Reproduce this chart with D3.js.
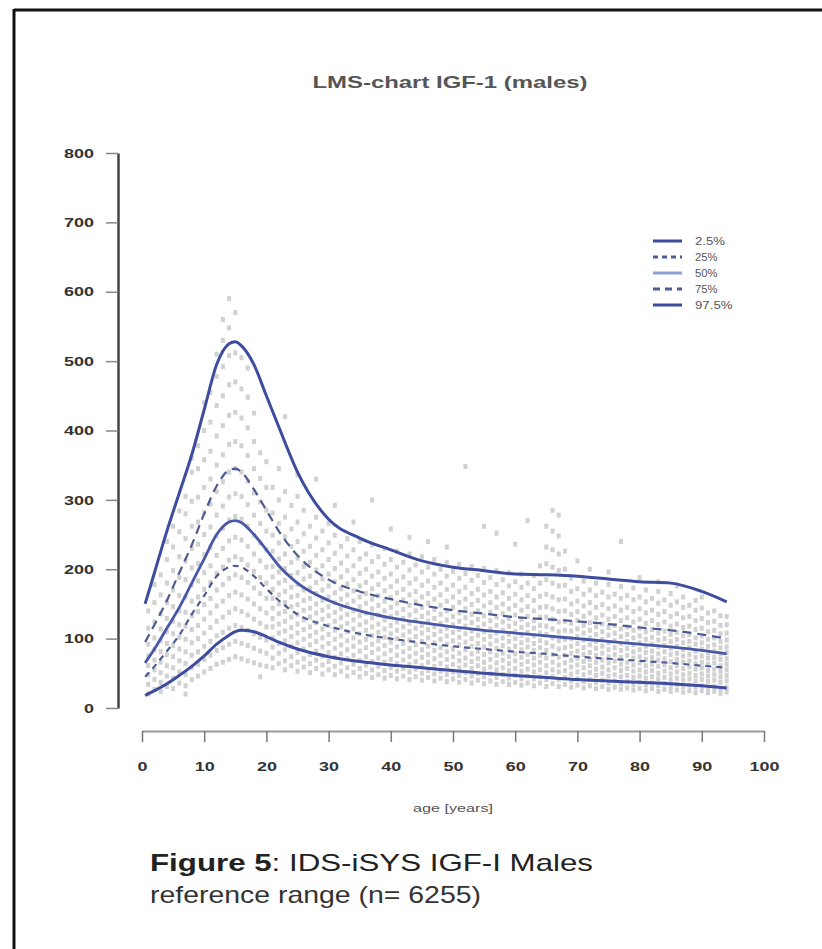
<!DOCTYPE html>
<html>
<head>
<meta charset="utf-8">
<script src="https://cdn.jsdelivr.net/npm/d3@7"></script>
<style>
  body { margin: 0; background: #fff; }
  svg { display: block; }
</style>
</head>
<body>
<svg id="chart" width="822" height="949"></svg>
<script>
// percentile curves (age in years, IGF-1 value)
const curveAges = [0.5, 2, 4, 6, 8, 10, 12, 14, 15, 16, 18, 20, 22, 25, 30, 35, 40, 45, 50, 55, 60, 65, 70, 75, 80, 85, 90, 94];
const p975 = [150, 195, 255, 310, 365, 430, 495, 525, 528, 522, 495, 450, 405, 340, 272, 245, 228, 212, 203, 198, 193, 192, 190, 186, 182, 180, 168, 153];
const p75  = [95, 120, 155, 195, 235, 280, 320, 343, 345, 340, 315, 285, 255, 220, 185, 168, 157, 148, 141, 136, 131, 128, 125, 121, 116, 112, 106, 100];
const p50  = [65, 85, 115, 145, 180, 215, 250, 268, 270, 267, 250, 228, 205, 180, 155, 140, 130, 123, 117, 112, 108, 104, 100, 96, 92, 88, 83, 78];
const p25  = [45, 60, 82, 105, 135, 162, 190, 203, 205, 203, 190, 172, 155, 135, 118, 107, 100, 94, 89, 85, 81, 78, 74, 71, 68, 65, 61, 58];
const p025 = [18, 25, 35, 47, 60, 75, 92, 105, 110, 112, 110, 103, 95, 85, 74, 67, 62, 58, 54, 50, 47, 44, 41, 39, 37, 35, 32, 29];

const legendLabels = ["2.5%", "25%", "50%", "75%", "97.5%"];
const xTicks = [0, 10, 20, 30, 40, 50, 60, 70, 80, 90, 100];
const yTicks = [0, 100, 200, 300, 400, 500, 600, 700, 800];

// measured points, one row per age: [age, value, value, ...]
const samples = [
  [1, 20, 34, 48, 61, 75, 92, 115, 140],
  [2, 27, 41, 55, 69, 84, 101, 124, 152, 178],
  [3, 24, 37, 51, 66, 81, 97, 114, 136, 163, 192],
  [4, 31, 46, 61, 77, 93, 110, 129, 152, 180, 214, 240],
  [5, 28, 43, 58, 74, 90, 107, 125, 146, 170, 198, 232, 262],
  [6, 36, 52, 68, 85, 102, 120, 140, 162, 188, 218, 254, 284],
  [7, 20, 32, 48, 64, 81, 99, 118, 138, 160, 185, 212, 244, 280, 305],
  [8, 41, 58, 76, 94, 113, 133, 154, 177, 202, 230, 262, 298, 340, 360],
  [9, 46, 63, 81, 100, 119, 139, 160, 183, 208, 236, 268, 304, 345, 378],
  [10, 52, 70, 89, 108, 128, 149, 171, 195, 221, 250, 282, 318, 358, 400, 440],
  [11, 57, 76, 96, 116, 137, 158, 181, 205, 232, 261, 294, 330, 370, 412, 455],
  [12, 63, 83, 104, 125, 147, 170, 194, 220, 248, 278, 312, 350, 392, 436, 478, 510],
  [13, 66, 87, 109, 131, 154, 178, 203, 230, 259, 291, 326, 365, 407, 450, 492, 530, 560],
  [14, 70, 92, 115, 138, 162, 187, 213, 241, 271, 304, 340, 380, 422, 466, 508, 548, 590],
  [15, 74, 96, 119, 143, 167, 192, 218, 246, 276, 309, 345, 384, 426, 470, 512, 570],
  [16, 71, 93, 116, 139, 163, 188, 214, 242, 272, 305, 340, 378, 418, 460, 505],
  [17, 68, 90, 112, 134, 157, 181, 206, 233, 262, 293, 327, 364, 404, 448, 490],
  [18, 65, 86, 107, 128, 150, 173, 197, 222, 249, 278, 310, 345, 384, 425],
  [19, 45, 62, 82, 102, 122, 143, 165, 188, 212, 238, 266, 297, 331, 368],
  [20, 60, 79, 98, 117, 137, 158, 180, 203, 228, 255, 285, 318, 355],
  [21, 58, 72, 88, 101, 117, 129, 144, 158, 171, 189, 204, 226, 249, 281, 318],
  [22, 64, 79, 93, 108, 121, 136, 150, 163, 180, 196, 215, 238, 266, 300, 345],
  [23, 55, 68, 84, 97, 111, 125, 139, 152, 168, 184, 201, 222, 247, 275, 312, 420],
  [24, 61, 74, 89, 103, 116, 131, 146, 160, 174, 191, 210, 233, 258, 292],
  [25, 53, 66, 80, 94, 108, 121, 135, 149, 162, 178, 195, 216, 240, 268, 305, 336],
  [26, 59, 71, 85, 99, 113, 127, 141, 155, 170, 186, 204, 226, 251, 285],
  [27, 51, 64, 77, 91, 104, 117, 131, 144, 158, 173, 190, 210, 233, 262],
  [28, 57, 69, 82, 96, 109, 123, 137, 150, 165, 181, 199, 220, 245, 275, 330],
  [29, 49, 62, 75, 88, 101, 114, 128, 141, 155, 170, 186, 205, 228, 255],
  [30, 55, 67, 80, 93, 106, 119, 133, 146, 160, 176, 193, 214, 238, 266],
  [31, 48, 60, 73, 86, 99, 112, 125, 138, 152, 166, 182, 201, 223, 249, 292],
  [32, 53, 65, 78, 91, 104, 117, 130, 143, 157, 172, 189, 209, 233],
  [33, 46, 58, 71, 84, 97, 110, 122, 135, 149, 163, 179, 198, 219, 244],
  [34, 51, 63, 76, 89, 101, 114, 127, 140, 154, 169, 185, 205, 228, 268],
  [35, 45, 57, 69, 82, 95, 107, 120, 133, 146, 160, 176, 194, 215, 240],
  [36, 50, 62, 74, 87, 99, 112, 124, 137, 151, 165, 181, 200, 222],
  [37, 44, 55, 67, 80, 92, 104, 117, 130, 143, 157, 172, 190, 211, 235, 300],
  [38, 48, 60, 72, 85, 97, 109, 121, 134, 148, 162, 178, 196, 218],
  [39, 43, 54, 66, 78, 90, 102, 114, 127, 140, 154, 169, 187, 207, 230],
  [40, 47, 58, 70, 83, 95, 107, 119, 132, 145, 159, 175, 193, 214, 258],
  [41, 42, 53, 64, 76, 88, 100, 112, 124, 137, 151, 166, 183, 203, 226],
  [42, 46, 57, 69, 81, 93, 105, 117, 129, 142, 156, 171, 189, 210],
  [43, 41, 52, 63, 74, 86, 98, 110, 122, 134, 148, 163, 180, 199, 222, 246],
  [44, 45, 56, 67, 79, 91, 103, 115, 127, 140, 153, 168, 186, 206],
  [45, 40, 50, 61, 73, 84, 96, 108, 119, 132, 145, 160, 177, 196, 218],
  [46, 44, 54, 66, 77, 89, 101, 113, 125, 137, 151, 165, 183, 203, 240],
  [47, 39, 49, 60, 71, 83, 94, 106, 117, 129, 142, 157, 174, 193, 214],
  [48, 43, 53, 64, 76, 87, 99, 111, 122, 135, 148, 163, 180, 200],
  [49, 38, 48, 59, 70, 81, 92, 104, 115, 127, 140, 154, 171, 190, 210, 232],
  [50, 42, 52, 63, 74, 85, 97, 109, 120, 132, 145, 160, 177, 197],
  [51, 37, 47, 58, 68, 79, 91, 102, 113, 125, 137, 152, 168, 187, 207],
  [52, 41, 51, 62, 72, 84, 95, 107, 118, 130, 143, 157, 174, 194, 348],
  [53, 36, 46, 57, 67, 78, 89, 100, 111, 123, 135, 149, 165, 184, 204],
  [54, 40, 50, 61, 71, 82, 93, 105, 116, 128, 140, 155, 171, 191],
  [55, 35, 45, 56, 66, 77, 88, 99, 110, 121, 133, 147, 163, 181, 201, 262],
  [56, 39, 49, 59, 70, 81, 92, 103, 114, 126, 138, 152, 168, 188],
  [57, 34, 44, 55, 65, 76, 86, 97, 108, 119, 131, 145, 160, 178, 198, 252],
  [58, 38, 48, 58, 69, 79, 90, 101, 112, 124, 136, 150, 166, 185],
  [59, 34, 43, 54, 64, 74, 85, 96, 106, 118, 129, 143, 158, 176, 195],
  [60, 37, 47, 57, 68, 78, 89, 100, 110, 122, 134, 148, 164, 182, 236],
  [61, 33, 42, 53, 63, 73, 84, 94, 105, 116, 128, 141, 156, 174, 193],
  [62, 36, 46, 56, 67, 77, 88, 98, 109, 120, 132, 146, 162, 180, 270],
  [63, 32, 42, 52, 62, 72, 83, 93, 104, 115, 126, 140, 155, 172, 191],
  [64, 36, 45, 55, 66, 76, 87, 97, 108, 119, 131, 145, 161, 180, 205],
  [65, 31, 41, 51, 61, 72, 83, 94, 106, 118, 131, 146, 164, 185, 208, 232, 262],
  [66, 35, 45, 55, 66, 77, 89, 101, 114, 128, 143, 160, 180, 203, 228, 255, 285],
  [67, 31, 41, 52, 62, 73, 85, 97, 110, 124, 139, 156, 176, 198, 222, 248, 278],
  [68, 34, 44, 54, 65, 76, 87, 99, 112, 125, 140, 157, 177, 200, 226],
  [69, 30, 39, 49, 59, 69, 79, 89, 100, 111, 122, 135, 150, 168, 187],
  [70, 33, 42, 52, 62, 72, 82, 93, 103, 114, 126, 139, 154, 172, 212],
  [71, 29, 38, 48, 58, 67, 77, 87, 98, 108, 119, 132, 147, 164, 183],
  [72, 32, 41, 51, 61, 70, 80, 91, 101, 112, 123, 137, 152, 170, 200],
  [73, 28, 37, 47, 56, 66, 76, 86, 96, 106, 117, 130, 145, 162, 180],
  [74, 31, 40, 50, 59, 69, 79, 89, 99, 110, 121, 134, 149, 167],
  [75, 27, 36, 46, 55, 65, 74, 84, 94, 105, 116, 128, 143, 160, 178, 196],
  [76, 30, 39, 48, 58, 68, 77, 87, 97, 108, 119, 132, 147, 164],
  [77, 27, 35, 45, 54, 63, 73, 83, 93, 103, 114, 126, 141, 158, 175, 240],
  [78, 29, 38, 47, 57, 66, 76, 86, 96, 106, 117, 130, 145, 162],
  [79, 26, 34, 44, 53, 62, 72, 81, 91, 101, 112, 124, 139, 156, 173],
  [80, 28, 37, 46, 55, 65, 74, 84, 94, 104, 115, 128, 143, 160, 188],
  [81, 25, 33, 43, 52, 61, 70, 80, 89, 99, 110, 122, 137, 153, 170],
  [82, 28, 36, 45, 54, 63, 73, 82, 92, 102, 113, 126, 141, 158],
  [83, 24, 32, 42, 50, 60, 69, 78, 88, 98, 108, 120, 135, 151, 168, 182],
  [84, 27, 35, 44, 53, 62, 71, 81, 90, 100, 111, 124, 139, 156],
  [85, 24, 31, 41, 49, 58, 67, 77, 86, 96, 106, 118, 132, 148, 165],
  [86, 26, 34, 43, 52, 61, 70, 79, 89, 99, 109, 121, 136, 153, 176],
  [87, 23, 31, 40, 48, 57, 66, 75, 84, 94, 104, 116, 130, 145, 160],
  [88, 25, 33, 42, 50, 59, 68, 77, 87, 96, 106, 118, 132, 148],
  [89, 22, 30, 39, 47, 56, 64, 73, 82, 92, 101, 113, 126, 141, 155],
  [90, 25, 32, 41, 49, 58, 66, 75, 85, 94, 104, 115, 129, 144, 160],
  [91, 22, 29, 38, 46, 54, 63, 72, 80, 89, 99, 110, 123, 137],
  [92, 24, 31, 40, 48, 56, 65, 73, 82, 91, 101, 112, 125, 140],
  [93, 21, 28, 37, 45, 53, 61, 70, 78, 87, 96, 107, 119, 133],
  [94, 23, 30, 39, 47, 55, 63, 71, 80, 88, 98, 108, 120, 132]
];

const svg = d3.select("#chart");

const x = d3.scaleLinear().domain([0, 100]).range([142, 764]);
const y = d3.scaleLinear().domain([0, 800]).range([708, 153]);

// frame of the scanned page
svg.append("line").attr("x1", 14).attr("x2", 822).attr("y1", 10).attr("y2", 10)
  .attr("stroke", "#111").attr("stroke-width", 3);
svg.append("line").attr("x1", 14).attr("x2", 14).attr("y1", 9).attr("y2", 949)
  .attr("stroke", "#111").attr("stroke-width", 3);

// title
svg.append("text")
  .attr("x", 450).attr("y", 88)
  .attr("text-anchor", "middle")
  .attr("font-family", "Liberation Sans, Arial, sans-serif")
  .attr("font-size", 17).attr("font-weight", "bold")
  .attr("fill", "#555")
  .attr("textLength", 275).attr("lengthAdjust", "spacingAndGlyphs")
  .text("LMS-chart IGF-1 (males)");

// scatter
const points = samples.flatMap(r => r.slice(1).map(v => ({ age: r[0], v })));
svg.append("g").selectAll("rect")
  .data(points)
  .join("rect")
    .attr("x", d => x(d.age) - 2)
    .attr("y", d => y(d.v) - 2.5)
    .attr("width", 4)
    .attr("height", 5)
    .attr("fill", "#bdbdbd")
    .attr("opacity", 0.7);

// y axis
const yAxis = svg.append("g")
  .attr("transform", "translate(118,0)")
  .call(d3.axisLeft(y).tickValues(yTicks).tickSize(12).tickPadding(12).tickSizeOuter(0));
yAxis.select(".domain").attr("stroke", "#444").attr("stroke-width", 2.5);
yAxis.selectAll(".tick line").attr("stroke", "#888").attr("stroke-width", 1.5);
yAxis.selectAll(".tick text")
  .attr("font-family", "Liberation Sans, Arial, sans-serif")
  .attr("font-size", 13).attr("font-weight", "bold").attr("fill", "#333")
  .attr("textLength", d => String(d).length * 10)
  .attr("lengthAdjust", "spacingAndGlyphs");

// x axis
const xAxis = svg.append("g")
  .attr("transform", "translate(0,731)")
  .call(d3.axisBottom(x).tickValues(xTicks).tickSize(11).tickPadding(20).tickSizeOuter(0));
xAxis.select(".domain").attr("stroke", "#999").attr("stroke-width", 2);
xAxis.selectAll(".tick line").attr("stroke", "#777").attr("stroke-width", 1.5);
xAxis.selectAll(".tick text")
  .attr("font-family", "Liberation Sans, Arial, sans-serif")
  .attr("font-size", 13).attr("font-weight", "bold").attr("fill", "#333")
  .attr("textLength", d => String(d).length * 10)
  .attr("lengthAdjust", "spacingAndGlyphs");

svg.append("text")
  .attr("x", 453).attr("y", 812)
  .attr("text-anchor", "middle")
  .attr("font-family", "Liberation Sans, Arial, sans-serif")
  .attr("font-size", 11).attr("fill", "#555")
  .attr("textLength", 80).attr("lengthAdjust", "spacingAndGlyphs")
  .text("age [years]");

// percentile curves
const series = [
  { name: "2.5%", values: p025, color: "#3d4c9e", width: 3, dash: null },
  { name: "25%", values: p25, color: "#4c5b92", width: 2.2, dash: "6,5" },
  { name: "50%", values: p50, color: "#4758a8", width: 2.8, dash: null },
  { name: "75%", values: p75, color: "#4c5b92", width: 2.2, dash: "9,6" },
  { name: "97.5%", values: p975, color: "#3d4c9e", width: 3, dash: null }
];

const line = d3.line()
  .x((d, i) => x(curveAges[i]))
  .y(d => y(d))
  .curve(d3.curveMonotoneX);

svg.append("g").selectAll("path")
  .data(series)
  .join("path")
    .attr("d", d => line(d.values))
    .attr("fill", "none")
    .attr("stroke", d => d.color)
    .attr("stroke-width", d => d.width)
    .attr("stroke-dasharray", d => d.dash);

// legend
const legendColors = ["#3d4c9e", "#4c5b92", "#8f9fd6", "#4c5b92", "#3d4c9e"];
const legendDash = [null, "5,4", null, "7,5", null];
const legend = svg.append("g");
legendLabels.forEach((lab, i) => {
  const ly = 241 + i * 16;
  legend.append("line")
    .attr("x1", 653).attr("x2", 682).attr("y1", ly).attr("y2", ly)
    .attr("stroke", legendColors[i]).attr("stroke-width", 3)
    .attr("stroke-dasharray", legendDash[i]);
  legend.append("text")
    .attr("x", 695).attr("y", ly + 4)
    .attr("font-family", "Liberation Sans, Arial, sans-serif")
    .attr("font-size", 10).attr("fill", "#555")
    .attr("textLength", lab.length * 7.5).attr("lengthAdjust", "spacingAndGlyphs")
    .text(lab);
});

// caption
const cap = svg.append("text")
  .attr("x", 150).attr("y", 871)
  .attr("font-family", "Liberation Sans, Arial, sans-serif")
  .attr("font-size", 24).attr("fill", "#222")
  .attr("textLength", 443).attr("lengthAdjust", "spacingAndGlyphs");
cap.append("tspan").attr("font-weight", "bold").text("Figure 5");
cap.append("tspan").text(": IDS-iSYS IGF-I Males");

svg.append("text")
  .attr("x", 150).attr("y", 903)
  .attr("font-family", "Liberation Sans, Arial, sans-serif")
  .attr("font-size", 24).attr("fill", "#333")
  .attr("textLength", 331).attr("lengthAdjust", "spacingAndGlyphs")
  .text("reference range (n= 6255)");
</script>
</body>
</html>
